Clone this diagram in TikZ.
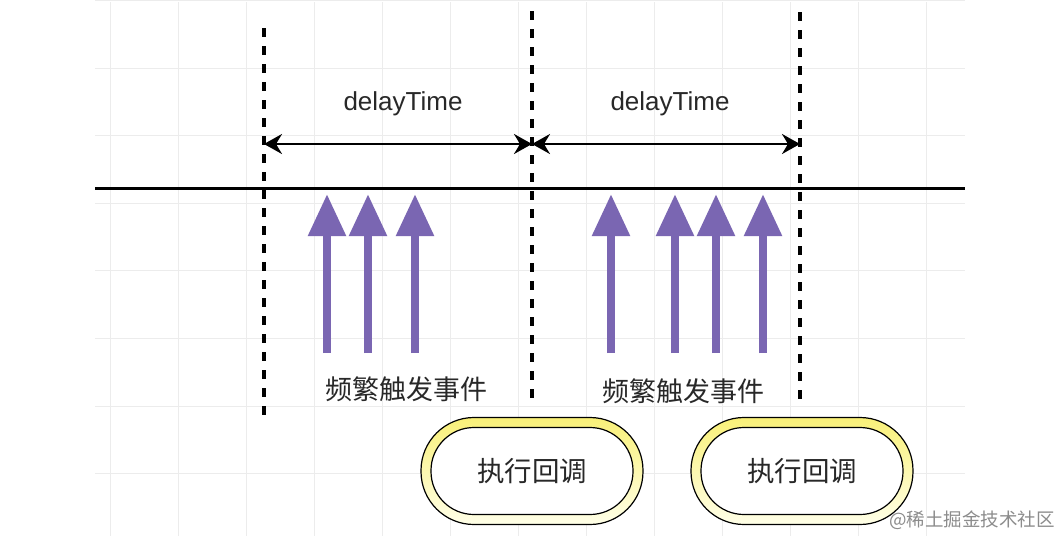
\documentclass[tikz,border=0pt]{standalone}
\usepackage{fontspec}
\setmainfont{Liberation Sans}
\newfontfamily\cjk{Noto Sans CJK SC}
\usetikzlibrary{arrows.meta}
\definecolor{gridc}{RGB}{236,236,236}
\definecolor{evpurple}{RGB}{122,102,178}
\definecolor{pillyel}{RGB}{249,240,120}
\definecolor{pillbot}{RGB}{255,255,232}
\definecolor{wmgray}{RGB}{140,140,140}
\definecolor{txtc}{RGB}{40,40,40}
\begin{document}
\begin{tikzpicture}[x=1pt,y=-1pt,
  gridline/.style={gridc, line width=1pt},
  timeline/.style={black, line width=3pt},
  divider/.style={black, line width=3.2pt, dash pattern=on 9pt off 9pt},
  spanarrow/.style={black, line width=2.4pt, {Stealth[length=18pt,width=20pt,inset=6pt]}-{Stealth[length=18pt,width=20pt,inset=6pt]}},
  evarrow/.style={evpurple, line width=8.5pt, -{Triangle[length=42pt,width=36pt]}},
  lbl/.style={text=txtc, font=\fontsize{26}{29}\selectfont, inner sep=0pt},
  cjklbl/.style={text=txtc, font=\cjk\fontsize{27}{30}\selectfont, inner sep=0pt},
  pillout/.style={draw=black, line width=1.2pt, top color=pillyel, bottom color=pillbot,
     minimum width=222pt, minimum height=107pt, rounded corners=53pt, inner sep=0pt},
  pillin/.style={draw=black, line width=1.2pt, fill=white, text=txtc,
     font=\cjk\fontsize{27.5}{30}\selectfont,
     minimum width=202pt, minimum height=87pt, rounded corners=43pt, inner sep=0pt},
]
\useasboundingbox (0,0) rectangle (1060,536);
\fill[white] (0,0) rectangle (1060,536);

% grid
\foreach \gx in {0,...,12} \draw[gridline] ({110+68*\gx},2) -- ({110+68*\gx},536);
\foreach \gy in {0,...,7} \draw[gridline] (95,{0.5+67.6*\gy}) -- (965,{0.5+67.6*\gy});

% time line
\coordinate (tl0) at (95,188);
\coordinate (tl1) at (965,188);
\draw[timeline] (tl0) -- (tl1);

% dashed dividers
\coordinate (dA0) at (264,28);  \coordinate (dA1) at (264,421);
\coordinate (dB0) at (532,11);  \coordinate (dB1) at (532,406);
\coordinate (dC0) at (800,12);  \coordinate (dC1) at (800,407);
\draw[divider] (dA0) -- (dA1);
\draw[divider] (dB0) -- (dB1);
\draw[divider] (dC0) -- (dC1);

% span arrows
\coordinate (sA) at (264,144);
\coordinate (sB) at (532,144);
\coordinate (sC) at (800,144);
\draw[spanarrow] (sA) -- (sB);
\draw[spanarrow] (sB) -- (sC);

\node[lbl] (dt1) at (403,104) {delayTime};
\node[lbl] (dt2) at (670,104) {delayTime};

% event arrows
\foreach \ex [count=\i] in {327,368,415,611,675,716,763} {
  \coordinate (ev\i a) at (\ex,353);
  \coordinate (ev\i b) at (\ex,194);
  \draw[evarrow] (ev\i a) -- (ev\i b);
}

\node[cjklbl] (ev1) at (406,389) {频繁触发事件};
\node[cjklbl] (ev2) at (683,391) {频繁触发事件};

% callback pills
\node[pillout] (cb1) at (532,471) {};
\node[pillin] (cb1in) at (cb1.center) {执行回调};
\node[pillout] (cb2) at (802,471) {};
\node[pillin] (cb2in) at (cb2.center) {执行回调};

% watermark
\node[text=wmgray, font=\cjk\fontsize{18.5}{20}\selectfont, inner sep=0pt, anchor=east] (wm) at (1055,520) {@稀土掘金技术社区};
\end{tikzpicture}
\end{document}
